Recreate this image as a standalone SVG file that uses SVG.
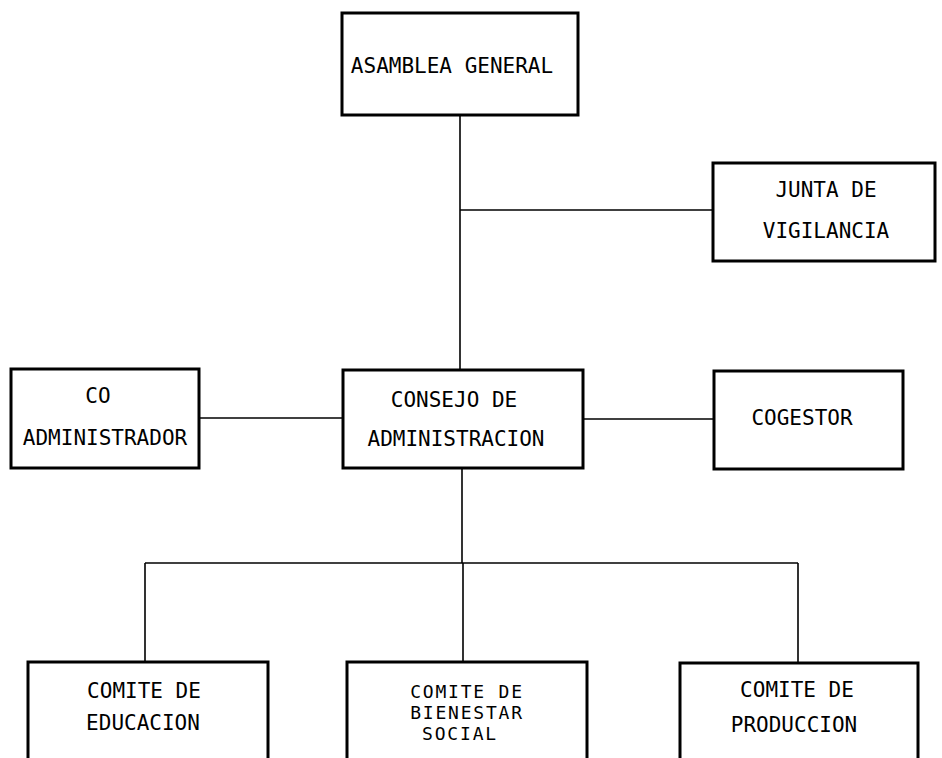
<svg xmlns="http://www.w3.org/2000/svg" width="942" height="758" viewBox="0 0 942 758">
<style>
.box{fill:#fff;stroke:#000;stroke-width:3}
.ln{fill:none;stroke:#000;stroke-width:1.6}
text{font-family:"DejaVu Sans Mono","Liberation Mono",monospace;font-size:21px;fill:#000;text-anchor:middle}
.tight{font-size:18px;letter-spacing:1.8px}
</style>
<rect width="942" height="758" fill="#fff"/>
<g id="connectors">
<path class="ln" d="M460 115V370"/>
<path class="ln" d="M460 210H713"/>
<path class="ln" d="M199 418H343"/>
<path class="ln" d="M583 419H714"/>
<path class="ln" d="M462 468V563"/>
<path class="ln" d="M145 563H798"/>
<path class="ln" d="M145 563V662M463 563V662M798 563V662"/>
</g>
<g id="asamblea">
<rect class="box" x="342" y="13" width="236" height="102"/>
<text x="452" y="73">ASAMBLEA GENERAL</text>
</g>
<g id="junta">
<rect class="box" x="713" y="163" width="222" height="98"/>
<text x="826" y="197">JUNTA DE</text>
<text x="826" y="238">VIGILANCIA</text>
</g>
<g id="coadministrador">
<rect class="box" x="11" y="369" width="188" height="99"/>
<text x="98" y="403">CO</text>
<text x="105" y="445">ADMINISTRADOR</text>
</g>
<g id="consejo">
<rect class="box" x="343" y="370" width="240" height="98"/>
<text x="454" y="407">CONSEJO DE</text>
<text x="456" y="446">ADMINISTRACION</text>
</g>
<g id="cogestor">
<rect class="box" x="714" y="371" width="189" height="98"/>
<text x="802" y="425">COGESTOR</text>
</g>
<g id="educacion">
<rect class="box" x="28" y="662" width="240" height="110"/>
<text x="144" y="698">COMITE DE</text>
<text x="143" y="730">EDUCACION</text>
</g>
<g id="bienestar">
<rect class="box" x="347" y="662" width="240" height="110"/>
<text class="tight" x="467" y="698">COMITE DE</text>
<text class="tight" x="467" y="719">BIENESTAR</text>
<text class="tight" x="460" y="740">SOCIAL</text>
</g>
<g id="produccion">
<rect class="box" x="680" y="663" width="238" height="110"/>
<text x="797" y="697">COMITE DE</text>
<text x="794" y="732">PRODUCCION</text>
</g>
</svg>
